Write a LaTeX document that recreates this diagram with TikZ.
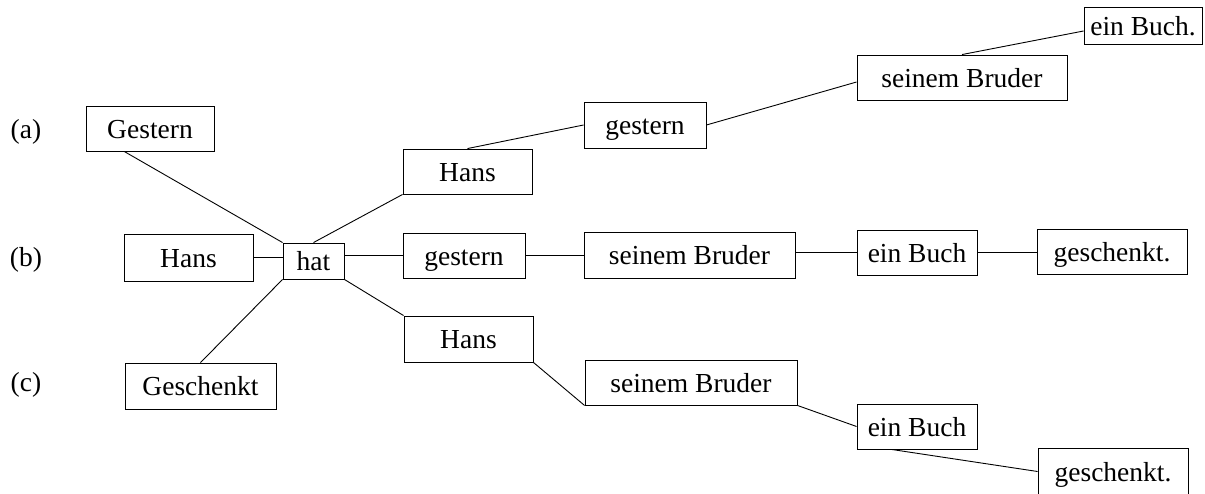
\documentclass[tikz,border=0pt]{standalone}
\usepackage{fontspec}
\setmainfont{Liberation Serif}
\usetikzlibrary{calc}
\begin{document}
\begin{tikzpicture}[x=1pt,y=-1pt,
  txt/.style={inner sep=0pt,text height=25pt,text depth=6pt,font=\fontsize{27.5}{33}\selectfont},
  wbox/.style={txt,draw,line width=0.9pt,minimum height=45pt},
  conn/.style={line width=0.9pt}]
\useasboundingbox (0,0) rectangle (1205,493);
\clip (0,0) rectangle (1205,493);
% row labels
\node[txt] (la) at (26,129) {(a)};
\node[txt] (lb) at (26,257) {(b)};
\node[txt] (lc) at (26,382) {(c)};
% left column
\node[wbox,minimum width=128pt] (gestern) at (150,128.5) {Gestern};
\node[wbox,minimum width=129pt,minimum height=47pt] (hb) at (188.5,257.5) {Hans};
\node[wbox,minimum width=151pt,minimum height=46pt] (gk) at (200.5,386) {Geschenkt};
\node[wbox,minimum width=61pt,minimum height=36pt] (hat) at (313.5,261) {hat};
% row (a)
\node[wbox,minimum width=129pt] (ha) at (467.5,171.5) {Hans};
\node[wbox,minimum width=122pt,minimum height=46pt] (ga) at (645,125) {gestern};
\node[wbox,minimum width=210pt] (sba) at (962,77.5) {seinem Bruder};
\node[wbox,minimum width=118pt,minimum height=37pt] (eba) at (1143,25.5) {ein Buch.};
% row (b)
\node[wbox,minimum width=122pt] (gb) at (464,255.5) {gestern};
\node[wbox,minimum width=211pt,minimum height=46pt] (sbb) at (689.5,255) {seinem Bruder};
\node[wbox,minimum width=120pt] (ebb) at (917,252.5) {ein Buch};
\node[wbox,minimum width=150pt] (gkb) at (1112,251.5) {geschenkt.};
% row (c)
\node[wbox,minimum width=129pt,minimum height=46pt] (hc) at (468.5,339) {Hans};
\node[wbox,minimum width=212pt] (sbc) at (691,382.5) {seinem Bruder};
\node[wbox,minimum width=120pt] (ebc) at (917,426.5) {ein Buch};
\node[wbox,minimum width=150pt,minimum height=47pt] (gkc) at (1113,471.5) {geschenkt.};
% connectors
\draw[conn] ($(gestern.south west)!0.3!(gestern.south east)$) -- (hat.north west);
\draw[conn] (hb.east) -- (hb.east -| hat.west);
\draw[conn] (hat.north) -- (ha.south west);
\draw[conn] (hat.east |- gb.west) -- (gb.west);
\draw[conn] (hat.south east) -- (hc.north west);
\draw[conn] (hat.south west) -- (gk.north);
% (a)
\draw[conn] (ha.north) -- (ga.west);
\draw[conn] (ga.east) -- ($(sba.west)+(0,4.5)$);
\draw[conn] (sba.north) -- ($(eba.west)+(0,5.5)$);
% (b)
\draw[conn] (gb.east) -- (gb.east -| sbb.west);
\draw[conn] (sbb.east |- ebb.west) -- (ebb.west);
\draw[conn] (ebb.east) -- (ebb.east -| gkb.west);
% (c)
\draw[conn] (hc.south east) -- (sbc.south west);
\draw[conn] (sbc.south east) -- (ebc.west);
\draw[conn] ($(ebc.south west)!0.29!(ebc.south east)$) -- (gkc.west);
\end{tikzpicture}
\end{document}
